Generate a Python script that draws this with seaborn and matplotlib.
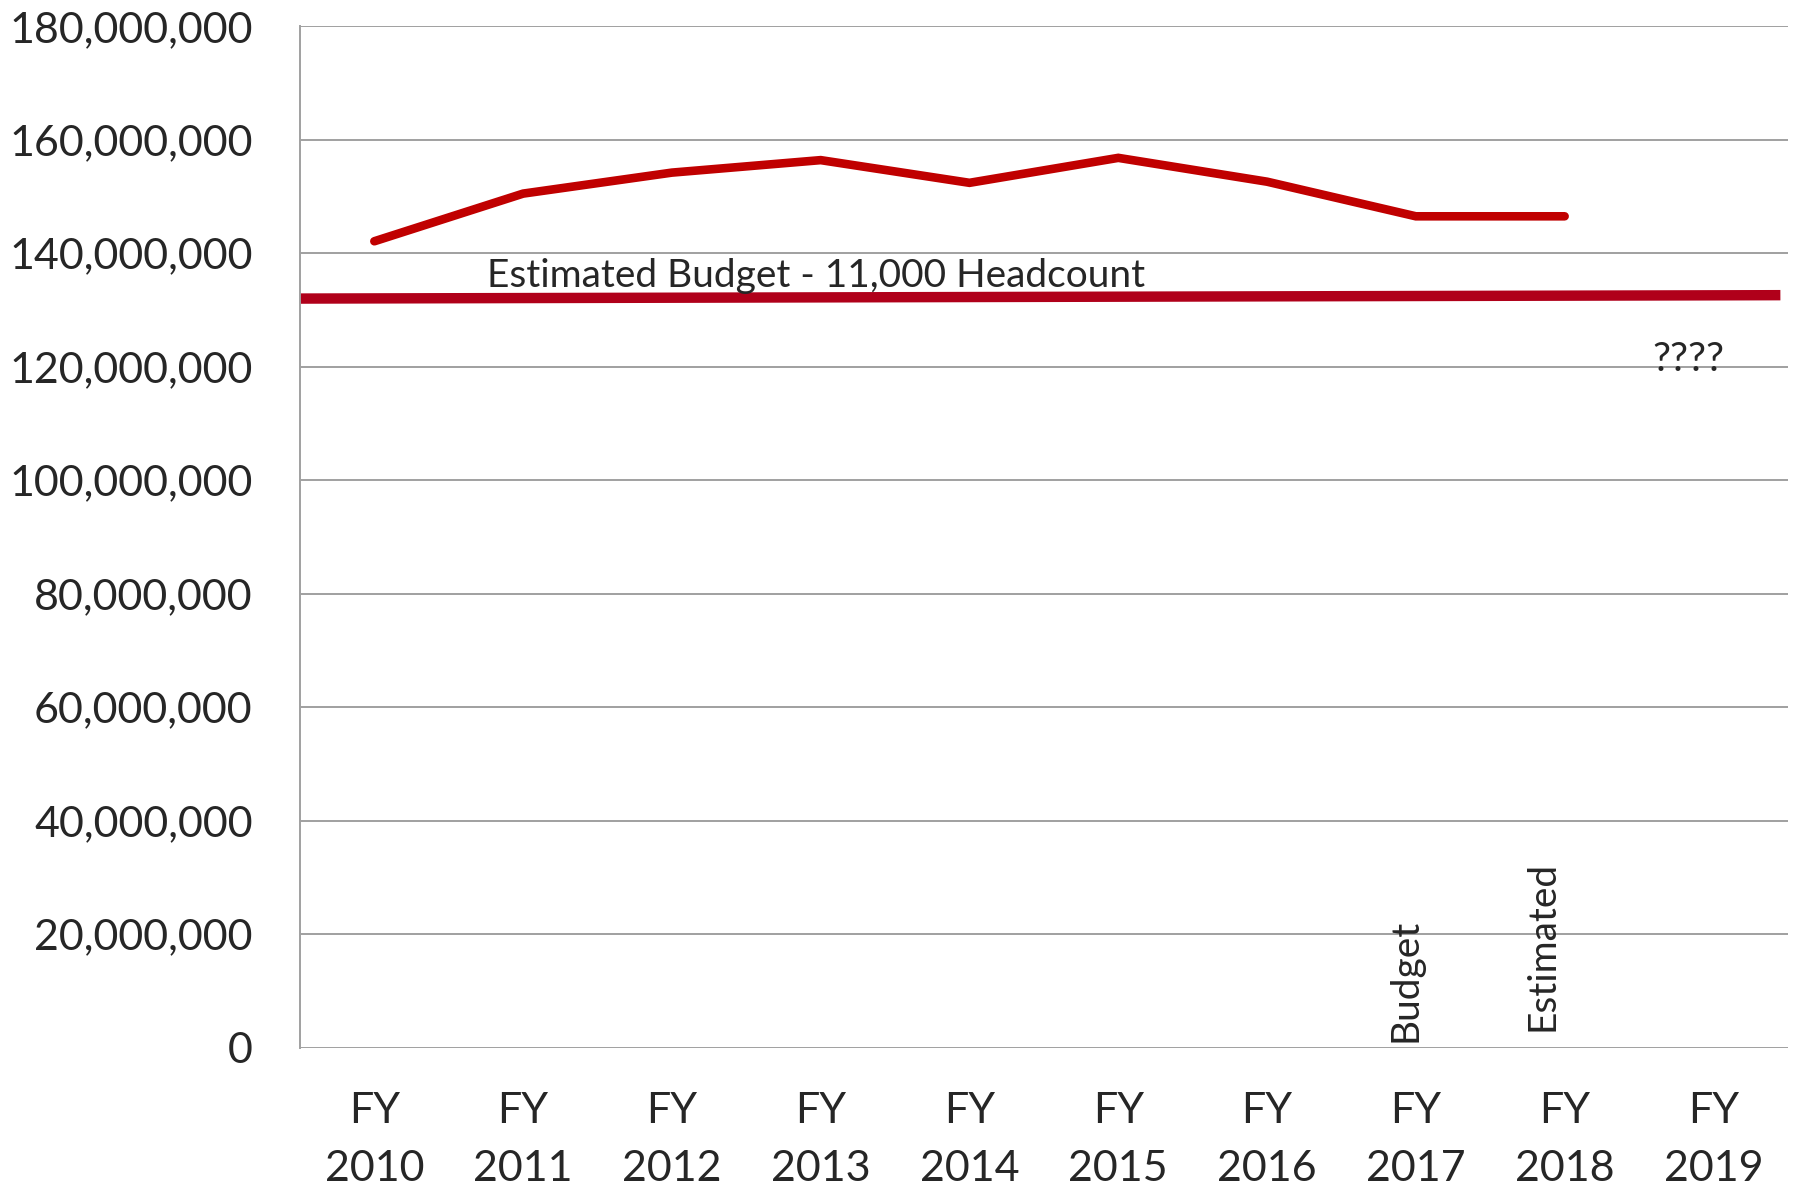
import numpy as np
import pandas as pd
import matplotlib
matplotlib.use("Agg")
import matplotlib.pyplot as plt
import seaborn as sns

years = ["FY\n2010", "FY\n2011", "FY\n2012", "FY\n2013", "FY\n2014",
         "FY\n2015", "FY\n2016", "FY\n2017", "FY\n2018", "FY\n2019"]
actual = [142.1e6, 150.5e6, 154.2e6, 156.4e6, 152.4e6,
          156.8e6, 152.6e6, 146.5e6, 146.5e6, np.nan]
budget_x = [-0.5, 9.45]
budget_y = [132.0e6, 132.6e6]
yticks = np.arange(0, 180e6 + 1, 20e6)

sns.set_style("white")
plt.rcParams['font.family'] = ['Lato', 'DejaVu Sans']

fig = plt.figure(figsize=(17.95, 11.92), dpi=100)
ax = fig.add_axes([0.1671, 0.1212, 0.996 - 0.1671, 0.978 - 0.1212])

df = pd.DataFrame({"pos": np.arange(len(years)), "value": actual}).dropna()
sns.lineplot(data=df, x="pos", y="value", ax=ax, color="#C00000", linewidth=6.2,
             solid_capstyle="round", solid_joinstyle="miter")
sns.lineplot(x=budget_x, y=budget_y, ax=ax, color="#B0001A", linewidth=7.5,
             solid_capstyle="butt")

ax.set_xlim(-0.5, 9.5)
ax.set_ylim(0, 180e6)
ax.set_yticks(yticks)
ax.set_yticklabels([f"{int(v):,}" for v in yticks])
ax.set_xticks(np.arange(len(years)))
ax.set_xticklabels(years, linespacing=1.64)
ax.tick_params(axis="y", labelsize=31, pad=34, length=0)
ax.tick_params(axis="x", labelsize=31, pad=32, length=0)
ax.grid(axis="y", color="#A0A0A0", linewidth=1.4)
ax.set_axisbelow(True)
for s in ["top", "right", "bottom"]:
    ax.spines[s].set_visible(False)
ax.spines["left"].set_color("#A0A0A0")
ax.spines["left"].set_linewidth(1.4)
ax.set_xlabel("")
ax.set_ylabel("")

ax.text(0.754, 136.0e6, "Estimated Budget - 11,000 Headcount", fontsize=28,
        ha="left", va="center")
ax.text(8.83, 121.3e6, "????", fontsize=29, ha="center", va="center")
ax.text(6.93, 1.0e6, "Budget", fontsize=28, rotation=90, ha="center", va="bottom")
ax.text(7.85, 3.0e6, "Estimated", fontsize=28, rotation=90, ha="center", va="bottom")

fig.savefig("out.png", dpi=100)
